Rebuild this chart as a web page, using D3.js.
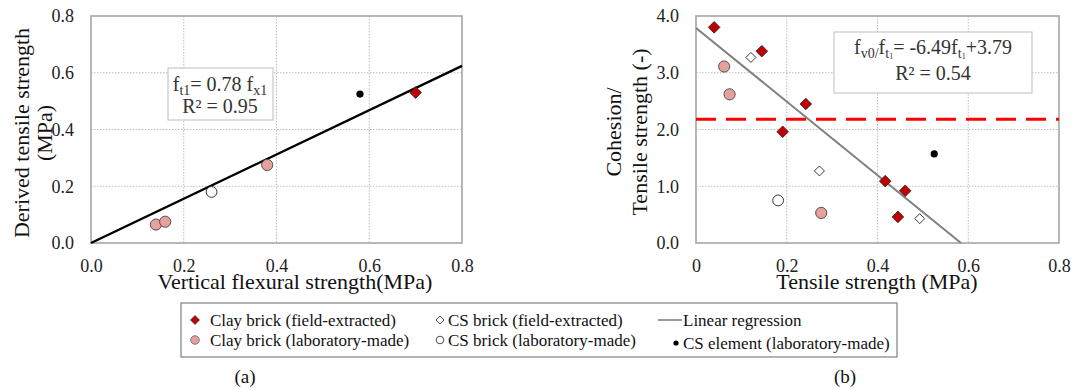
<!DOCTYPE html>
<html>
<head>
<meta charset="utf-8">
<script src="https://cdn.jsdelivr.net/npm/d3@7"></script>
<style>
  body { margin: 0; background: #fff; }
  svg { display: block; font-family: "Liberation Serif", "Times New Roman", serif; }
  .tick text { font-size: 18px; fill: #222; font-family: "Liberation Serif", "Times New Roman", serif; }
</style>
</head>
<body>
<svg id="chart" width="1075" height="388"></svg>
<script>
// (a) ft1 vs fx1
const clayFieldA = [[0.70, 0.53]]
const clayLabA = [[0.14, 0.065], [0.16, 0.075], [0.38, 0.275]]
const csBrickLabA = [[0.26, 0.18]]
const csElemA = [[0.58, 0.525]]
const slopeA = 0.78

// (b) cohesion / tensile strength vs tensile strength
const clayFieldB = [[0.04, 3.80], [0.145, 3.38], [0.242, 2.45], [0.191, 1.96], [0.417, 1.09], [0.461, 0.92], [0.445, 0.46]]
const csBrickFieldB = [[0.121, 3.27], [0.272, 1.27], [0.493, 0.43]]
const clayLabB = [[0.062, 3.11], [0.074, 2.62], [0.276, 0.53]]
const csBrickLabB = [[0.181, 0.75]]
const csElemB = [[0.525, 1.57]]
const slopeB = -6.49
const interceptB = 3.79
const refLineB = 2.18

const ticksA = [0, 0.2, 0.4, 0.6, 0.8]
const ticksBx = [0, 0.2, 0.4, 0.6, 0.8]
const ticksBy = [0, 1, 2, 3, 4]

const legendItems = [
  { label: 'Clay brick (field-extracted)', type: 'clayField' },
  { label: 'CS brick (field-extracted)', type: 'csBrickField' },
  { label: 'Linear regression', type: 'line' },
  { label: 'Clay brick (laboratory-made)', type: 'clayLab' },
  { label: 'CS brick (laboratory-made)', type: 'csBrickLab' },
  { label: 'CS element (laboratory-made)', type: 'csElem' }
]

const serif = '"Liberation Serif", "Times New Roman", serif'
const red = '#c00000'
const pink = '#e6a19c'
const svg = d3.select('#chart')

const diamond = (r) => `M0,${-r}L${r},0L0,${r}L${-r},0Z`

const drawMarkers = (g, x, y, data, type) => {
  const sel = g.append('g').selectAll('path').data(data).enter()
  if (type === 'clayField') {
    sel.append('path').attr('d', diamond(5.8))
      .attr('transform', (d) => `translate(${x(d[0])},${y(d[1])})`)
      .attr('fill', red).attr('stroke', '#222').attr('stroke-width', 0.8)
  } else if (type === 'csBrickField') {
    sel.append('path').attr('d', diamond(5))
      .attr('transform', (d) => `translate(${x(d[0])},${y(d[1])})`)
      .attr('fill', '#fff').attr('stroke', '#222').attr('stroke-width', 0.9)
  } else if (type === 'clayLab') {
    sel.append('circle').attr('cx', (d) => x(d[0])).attr('cy', (d) => y(d[1])).attr('r', 5.6)
      .attr('fill', pink).attr('stroke', '#444').attr('stroke-width', 0.9)
  } else if (type === 'csBrickLab') {
    sel.append('circle').attr('cx', (d) => x(d[0])).attr('cy', (d) => y(d[1])).attr('r', 5.4)
      .attr('fill', '#fff').attr('stroke', '#222').attr('stroke-width', 0.9)
  } else if (type === 'csElem') {
    sel.append('circle').attr('cx', (d) => x(d[0])).attr('cy', (d) => y(d[1])).attr('r', 3.6)
      .attr('fill', '#000')
  }
}

const drawFrame = (g, x, y, gridX, gridY, plot) => {
  g.append('g').selectAll('line').data(gridX).enter().append('line')
    .attr('x1', x).attr('x2', x).attr('y1', plot.top).attr('y2', plot.bottom)
    .attr('stroke', '#bdbdbd').attr('stroke-width', 1).attr('stroke-dasharray', '1.5,1.5')
  g.append('g').selectAll('line').data(gridY).enter().append('line')
    .attr('y1', y).attr('y2', y).attr('x1', plot.left).attr('x2', plot.right)
    .attr('stroke', '#bdbdbd').attr('stroke-width', 1).attr('stroke-dasharray', '1.5,1.5')
  g.append('rect')
    .attr('x', plot.left).attr('y', plot.top)
    .attr('width', plot.right - plot.left).attr('height', plot.bottom - plot.top)
    .attr('fill', 'none').attr('stroke', '#a6a6a6').attr('stroke-width', 1.6)
}

const drawAxes = (g, x, y, xTicks, yTicks, xFmt, yFmt, plot) => {
  g.append('g').attr('transform', `translate(0,${plot.bottom})`)
    .call(d3.axisBottom(x).tickValues(xTicks).tickSize(0).tickPadding(16).tickFormat(xFmt))
    .attr('font-family', serif).attr('font-size', 18)
    .call((a) => a.select('.domain').remove())
  g.append('g').attr('transform', `translate(${plot.left},0)`)
    .call(d3.axisLeft(y).tickValues(yTicks).tickSize(0).tickPadding(17).tickFormat(yFmt))
    .attr('font-family', serif).attr('font-size', 18)
    .call((a) => a.select('.domain').remove())
}

// ---------- panel (a) ----------
const plotA = { left: 91, right: 462, top: 16, bottom: 243 }
const xA = d3.scaleLinear().domain([0, 0.8]).range([plotA.left, plotA.right])
const yA = d3.scaleLinear().domain([0, 0.8]).range([plotA.bottom, plotA.top])
const gA = svg.append('g')

drawFrame(gA, xA, yA, [0.2, 0.4, 0.6], [0.2, 0.4, 0.6], plotA)
drawAxes(gA, xA, yA, ticksA, ticksA, d3.format('.1f'), d3.format('.1f'), plotA)

gA.append('line')
  .attr('x1', xA(0)).attr('y1', yA(0))
  .attr('x2', xA(0.8)).attr('y2', yA(slopeA * 0.8))
  .attr('stroke', '#000').attr('stroke-width', 2.4)

drawMarkers(gA, xA, yA, clayLabA, 'clayLab')
drawMarkers(gA, xA, yA, csBrickLabA, 'csBrickLab')
drawMarkers(gA, xA, yA, csElemA, 'csElem')
drawMarkers(gA, xA, yA, clayFieldA, 'clayField')

gA.append('rect').attr('x', 168).attr('y', 68).attr('width', 105).attr('height', 52)
  .attr('fill', '#fff').attr('stroke', '#bdbdbd').attr('stroke-width', 1)
const eqA = gA.append('text').attr('x', 220).attr('y', 91).attr('text-anchor', 'middle')
  .attr('font-size', 20).attr('fill', '#333')
eqA.append('tspan').text('f')
eqA.append('tspan').attr('font-size', 14).attr('dy', 4).text('t1')
eqA.append('tspan').attr('dy', -4).text('= 0.78 f')
eqA.append('tspan').attr('font-size', 14).attr('dy', 4).text('x1')
gA.append('text').attr('x', 220).attr('y', 113).attr('text-anchor', 'middle')
  .attr('font-size', 20).attr('fill', '#333').text('R² = 0.95')

gA.append('text').attr('x', 295).attr('y', 289).attr('text-anchor', 'middle')
  .attr('font-size', 22).attr('fill', '#111').text('Vertical flexural strength(MPa)')
gA.append('text').attr('transform', 'translate(29,133) rotate(-90)').attr('text-anchor', 'middle')
  .attr('font-size', 22).attr('fill', '#111').text('Derived tensile strength')
gA.append('text').attr('transform', 'translate(52,133) rotate(-90)').attr('text-anchor', 'middle')
  .attr('font-size', 22).attr('fill', '#111').text('(MPa)')

// ---------- panel (b) ----------
const plotB = { left: 696, right: 1059, top: 16, bottom: 243 }
const xB = d3.scaleLinear().domain([0, 0.8]).range([plotB.left, plotB.right])
const yB = d3.scaleLinear().domain([0, 4]).range([plotB.bottom, plotB.top])
const gB = svg.append('g')

drawFrame(gB, xB, yB, [0.2, 0.4, 0.6], [1, 2, 3], plotB)
drawAxes(gB, xB, yB, ticksBx, ticksBy, (d) => d === 0 ? '0' : d3.format('.1f')(d), d3.format('.1f'), plotB)

gB.append('line')
  .attr('x1', xB(0)).attr('x2', xB(0.8)).attr('y1', yB(refLineB)).attr('y2', yB(refLineB))
  .attr('stroke', '#ff0000').attr('stroke-width', 3).attr('stroke-dasharray', '20,10')

const xZero = -interceptB / slopeB
gB.append('line')
  .attr('x1', xB(0)).attr('y1', yB(interceptB))
  .attr('x2', xB(xZero)).attr('y2', yB(0))
  .attr('stroke', '#808080').attr('stroke-width', 2)

drawMarkers(gB, xB, yB, clayLabB, 'clayLab')
drawMarkers(gB, xB, yB, csBrickLabB, 'csBrickLab')
drawMarkers(gB, xB, yB, csBrickFieldB, 'csBrickField')
drawMarkers(gB, xB, yB, csElemB, 'csElem')
drawMarkers(gB, xB, yB, clayFieldB, 'clayField')

gB.append('rect').attr('x', 834).attr('y', 32).attr('width', 198).attr('height', 61)
  .attr('fill', '#fff').attr('stroke', '#bdbdbd').attr('stroke-width', 1)
const eqB = gB.append('text').attr('x', 933).attr('y', 54).attr('text-anchor', 'middle')
  .attr('font-size', 20).attr('fill', '#333')
eqB.append('tspan').text('f')
eqB.append('tspan').attr('font-size', 14).attr('dy', 4).text('v0/')
eqB.append('tspan').attr('dy', -4).text('f')
eqB.append('tspan').attr('font-size', 14).attr('dy', 4).text('t')
eqB.append('tspan').attr('font-size', 8).attr('dy', 1).text('1')
eqB.append('tspan').attr('dy', -5).text('= -6.49f')
eqB.append('tspan').attr('font-size', 14).attr('dy', 4).text('t')
eqB.append('tspan').attr('font-size', 8).attr('dy', 1).text('1')
eqB.append('tspan').attr('dy', -5).text('+3.79')
gB.append('text').attr('x', 933).attr('y', 80).attr('text-anchor', 'middle')
  .attr('font-size', 20).attr('fill', '#333').text('R² = 0.54')

gB.append('text').attr('x', 877).attr('y', 289).attr('text-anchor', 'middle')
  .attr('font-size', 22).attr('fill', '#111').text('Tensile strength (MPa)')
gB.append('text').attr('transform', 'translate(621,132) rotate(-90)').attr('text-anchor', 'middle')
  .attr('font-size', 22).attr('fill', '#111').text('Cohesion/')
gB.append('text').attr('transform', 'translate(647,132) rotate(-90)').attr('text-anchor', 'middle')
  .attr('font-size', 22).attr('fill', '#111').text('Tensile strength (-)')

// ---------- legend ----------
const leg = svg.append('g')
leg.append('rect').attr('x', 181).attr('y', 303).attr('width', 716).attr('height', 54)
  .attr('fill', '#fff').attr('stroke', '#7f7f7f').attr('stroke-width', 1.2)

const legPos = [
  { mx: 195, tx: 210, y: 326 },
  { mx: 440, tx: 448, y: 326 },
  { mx: 670, tx: 683, y: 326 },
  { mx: 195, tx: 210, y: 346 },
  { mx: 440, tx: 448, y: 346 },
  { mx: 676, tx: 683, y: 349 }
]
const legMarker = {
  clayField: (g) => g.append('path').attr('d', diamond(4.5)).attr('fill', red).attr('stroke', '#222').attr('stroke-width', 0.6),
  csBrickField: (g) => g.append('path').attr('d', diamond(4)).attr('fill', '#fff').attr('stroke', '#222').attr('stroke-width', 0.8),
  line: (g) => g.append('line').attr('x1', -12).attr('x2', 12).attr('stroke', '#808080').attr('stroke-width', 1.6),
  clayLab: (g) => g.append('circle').attr('r', 4.3).attr('fill', pink).attr('stroke', '#555').attr('stroke-width', 0.7),
  csBrickLab: (g) => g.append('circle').attr('r', 3.8).attr('fill', '#fff').attr('stroke', '#222').attr('stroke-width', 0.8),
  csElem: (g) => g.append('circle').attr('r', 2.6).attr('fill', '#000')
}
legendItems.forEach((item, i) => {
  const p = legPos[i]
  const m = leg.append('g').attr('transform', `translate(${p.mx},${p.y - 6})`)
  legMarker[item.type](m)
  leg.append('text').attr('x', p.tx).attr('y', p.y).attr('font-size', 17).attr('fill', '#111').text(item.label)
})

svg.append('text').attr('x', 245).attr('y', 383).attr('text-anchor', 'middle')
  .attr('font-size', 19).attr('fill', '#111').text('(a)')
svg.append('text').attr('x', 845).attr('y', 383).attr('text-anchor', 'middle')
  .attr('font-size', 19).attr('fill', '#111').text('(b)')
</script>
</body>
</html>
